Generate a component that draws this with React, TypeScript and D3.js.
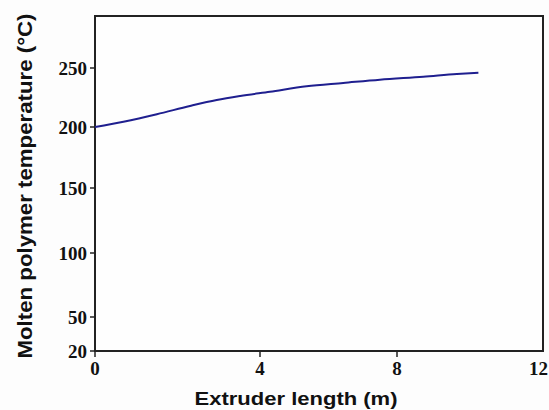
import * as d3 from 'd3'

// extruder position (m) and melt temperature (°C)
const lengthM = [0, 0.69, 1.5, 2.3, 2.95, 3.52, 4.29, 5.36, 6.43, 7.5, 8.72, 9.64, 10.23]
const tempC = [200, 204.5, 210.8, 217.8, 222.9, 226.3, 229.9, 234.5, 237.3, 240.1, 242.6, 244.9, 246]

const xTicks = [0, 4, 8]
const xTickLabels = ['0', '4', '8', '12']
const yTicks = [20, 50, 100, 150, 200, 250]

const W = 549
const H = 410

export default function App() {
  // the source plot has unevenly spaced ticks, so the scales are piecewise
  const x = d3.scaleLinear([0, 4, 8, 12], [95, 260, 397, 543])
  const y = d3.scaleLinear(
    [20, 50, 100, 150, 200, 250, 294],
    [351, 317, 253, 188, 127, 68, 16]
  )
  const line = d3
    .line<number>()
    .x((_, i) => x(lengthM[i]))
    .y((d) => y(d))
    .curve(d3.curveMonotoneX)

  const axisColor = '#222'
  const tickFont = '"Liberation Serif", serif'
  const titleFont = '"Liberation Sans", Arial, sans-serif'

  return (
    <svg
      width={W}
      height={H}
      style={{ position: 'absolute', left: 0, top: 0, background: '#fff' }}
    >
      <rect x={0} y={0} width={W} height={H} fill="#fdfdfd" />
      {/* frame */}
      <rect
        x={x(0)}
        y={y(294)}
        width={x(12) - x(0)}
        height={y(20) - y(294)}
        fill="#fefefe"
        stroke={axisColor}
        strokeWidth={2}
      />
      <path
        fill="none"
        stroke="#1f1f8f"
        strokeWidth={2}
        d={line(tempC) || undefined}
      />
      {yTicks.map((t) => (
        <g key={t}>
          <line
            x1={x(0) - 5}
            x2={x(0)}
            y1={y(t)}
            y2={y(t)}
            stroke={axisColor}
            strokeWidth={1.5}
          />
          <text
            x={x(0) - 8}
            y={y(t)}
            dy="0.35em"
            textAnchor="end"
            fontFamily={tickFont}
            fontWeight="bold"
            fontSize={19}
            fill="#111"
          >
            {t}
          </text>
        </g>
      ))}
      {xTicks.map((t) => (
        <line
          key={t}
          x1={x(t)}
          x2={x(t)}
          y1={y(20)}
          y2={y(20) + 6}
          stroke={axisColor}
          strokeWidth={1.5}
        />
      ))}
      {xTickLabels.map((s) => {
        const last = s === '12'
        return (
          <text
            key={s}
            x={last ? W - 1 : x(+s)}
            y={y(20) + 24}
            textAnchor={last ? 'end' : 'middle'}
            fontFamily={tickFont}
            fontWeight="bold"
            fontSize={19}
            fill="#111"
          >
            {s}
          </text>
        )
      })}
      <text
        x={296}
        y={405}
        textAnchor="middle"
        fontFamily={titleFont}
        fontWeight="bold"
        fontSize={19}
        textLength={203}
        lengthAdjust="spacingAndGlyphs"
        fill="#111"
      >
        Extruder length (m)
      </text>
      <text
        transform="translate(32,186) rotate(-90)"
        textAnchor="middle"
        fontFamily={titleFont}
        fontWeight="bold"
        fontSize={20}
        textLength={345}
        lengthAdjust="spacingAndGlyphs"
        fill="#111"
      >
        Molten polymer temperature (°C)
      </text>
    </svg>
  )
}
